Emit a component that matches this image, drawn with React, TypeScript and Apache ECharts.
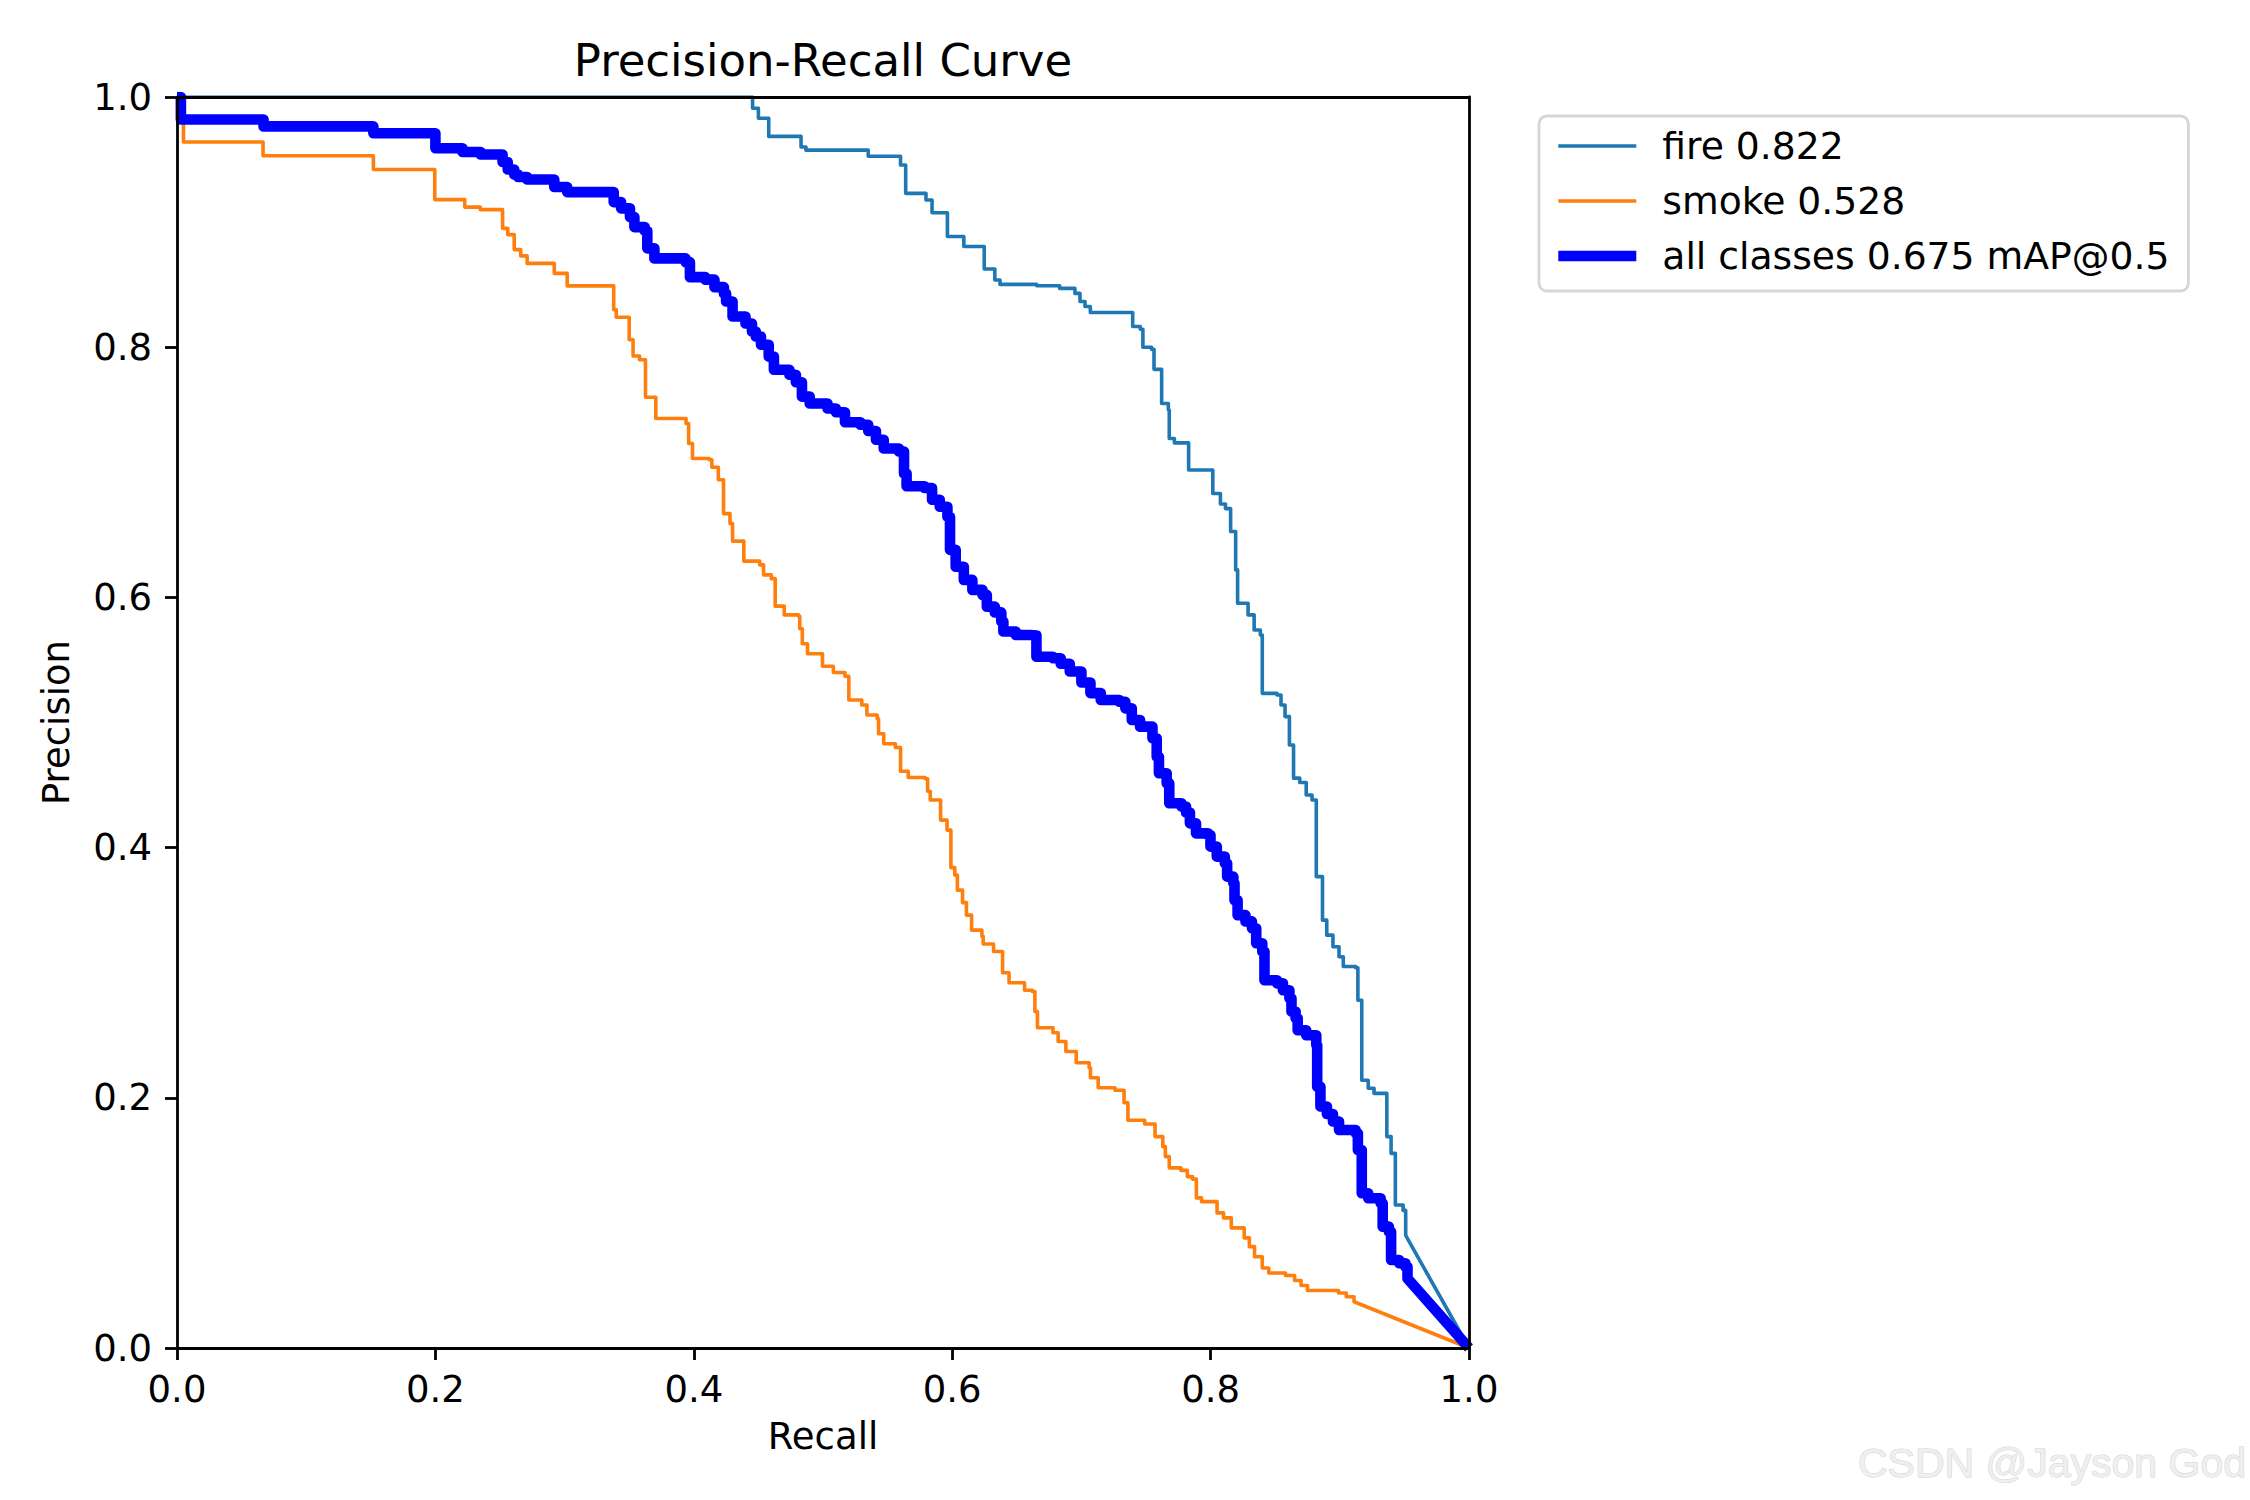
import React, { useEffect, useRef } from "react";
import * as echarts from "echarts";

// ---------- data (recall, precision level starting at that recall) ----------
const FIRE_STEPS: [number, number][] = [
  [0, 1.0], [0.4455, 0.991], [0.45, 0.983], [0.458, 0.9685], [0.483, 0.96], [0.4868, 0.9575],
  [0.535, 0.9526], [0.56, 0.9456], [0.564, 0.923], [0.5797, 0.9177], [0.5844, 0.9075],
  [0.5963, 0.8885], [0.609, 0.8805], [0.6248, 0.8625], [0.633, 0.8537], [0.637, 0.8502],
  [0.6654, 0.8491], [0.6832, 0.847], [0.695, 0.843], [0.6989, 0.8365], [0.7028, 0.8325],
  [0.7069, 0.8277], [0.7397, 0.8166], [0.7456, 0.8144], [0.7476, 0.8], [0.7543, 0.7983],
  [0.7562, 0.7823], [0.7621, 0.755], [0.7673, 0.7498], [0.768, 0.727], [0.772, 0.7235],
  [0.783, 0.7018], [0.8017, 0.683], [0.8076, 0.6747], [0.8115, 0.671], [0.8155, 0.6527],
  [0.8194, 0.622], [0.8209, 0.5953], [0.829, 0.586], [0.8337, 0.574], [0.8385, 0.57],
  [0.84, 0.5233], [0.8514, 0.522], [0.8545, 0.514], [0.8576, 0.5047], [0.861, 0.482],
  [0.8642, 0.4555], [0.869, 0.452], [0.874, 0.442], [0.8785, 0.438], [0.8818, 0.3768],
  [0.8866, 0.342], [0.8899, 0.33], [0.8947, 0.3208], [0.8994, 0.3128], [0.9027, 0.305],
  [0.9123, 0.304], [0.914, 0.278], [0.917, 0.214], [0.922, 0.2076], [0.9265, 0.2035],
  [0.9364, 0.169], [0.9397, 0.1556], [0.943, 0.1143], [0.949, 0.11], [0.951, 0.09],
];

const SMOKE_STEPS: [number, number][] = [
  [0, 1.0], [0.005, 0.964], [0.0666, 0.953], [0.152, 0.942], [0.1995, 0.918], [0.2227, 0.912],
  [0.2347, 0.91], [0.252, 0.895], [0.256, 0.89], [0.261, 0.878], [0.266, 0.873], [0.271, 0.867],
  [0.292, 0.859], [0.302, 0.849], [0.338, 0.83], [0.34, 0.824], [0.35, 0.806], [0.353, 0.793],
  [0.358, 0.79], [0.3626, 0.76], [0.3706, 0.743], [0.394, 0.739], [0.396, 0.723], [0.399, 0.711],
  [0.412, 0.71], [0.414, 0.704], [0.419, 0.694], [0.423, 0.667], [0.428, 0.659], [0.43, 0.645],
  [0.4387, 0.629], [0.451, 0.626], [0.454, 0.618], [0.46, 0.615], [0.463, 0.593], [0.47, 0.586],
  [0.481, 0.585], [0.482, 0.575], [0.484, 0.563], [0.488, 0.555], [0.4996, 0.545], [0.508, 0.54],
  [0.517, 0.537], [0.52, 0.518], [0.53, 0.514], [0.534, 0.506], [0.542, 0.503], [0.543, 0.491],
  [0.547, 0.483], [0.556, 0.48], [0.56, 0.461], [0.566, 0.456], [0.579, 0.455], [0.581, 0.445],
  [0.583, 0.438], [0.591, 0.422], [0.596, 0.414], [0.599, 0.384], [0.602, 0.378], [0.604, 0.366],
  [0.608, 0.356], [0.611, 0.346], [0.615, 0.334], [0.623, 0.329], [0.624, 0.323], [0.632, 0.317],
  [0.639, 0.3], [0.644, 0.292], [0.656, 0.286], [0.662, 0.285], [0.664, 0.269], [0.666, 0.256],
  [0.678, 0.252], [0.682, 0.245], [0.688, 0.237], [0.696, 0.228], [0.706, 0.224], [0.707, 0.216],
  [0.713, 0.208], [0.726, 0.206], [0.733, 0.196], [0.736, 0.182], [0.749, 0.179], [0.757, 0.169],
  [0.763, 0.161], [0.765, 0.153], [0.768, 0.144], [0.777, 0.142], [0.782, 0.137], [0.786, 0.135],
  [0.789, 0.12], [0.793, 0.117], [0.805, 0.108], [0.81, 0.104], [0.816, 0.096], [0.826, 0.088],
  [0.83, 0.081], [0.834, 0.073], [0.84, 0.064], [0.845, 0.06], [0.858, 0.058], [0.865, 0.054],
  [0.87, 0.05], [0.875, 0.046], [0.899, 0.044], [0.905, 0.041], [0.911, 0.037],
];

const ALL_STEPS: [number, number][] = [
  [0, 1.0], [0.003, 0.982], [0.067, 0.9765], [0.152, 0.971], [0.2, 0.959], [0.221, 0.956],
  [0.235, 0.954], [0.252, 0.948], [0.256, 0.942], [0.261, 0.938], [0.264, 0.936], [0.271, 0.934],
  [0.292, 0.928], [0.302, 0.924], [0.338, 0.916], [0.3437, 0.911], [0.3506, 0.904], [0.354, 0.896],
  [0.362, 0.893], [0.364, 0.879], [0.3695, 0.871], [0.3937, 0.868], [0.397, 0.856], [0.409, 0.854],
  [0.416, 0.848], [0.4233, 0.843], [0.425, 0.8365], [0.43, 0.8245], [0.44, 0.819], [0.445, 0.8125],
  [0.448, 0.8085], [0.452, 0.802], [0.458, 0.7925], [0.462, 0.782], [0.474, 0.778], [0.479, 0.772],
  [0.4837, 0.7605], [0.4897, 0.755], [0.5035, 0.751], [0.51, 0.748], [0.517, 0.74], [0.529, 0.738],
  [0.535, 0.733], [0.541, 0.726], [0.547, 0.719], [0.5588, 0.7166], [0.5627, 0.699], [0.5647, 0.6888],
  [0.5786, 0.6875], [0.5844, 0.678], [0.5904, 0.6725], [0.5963, 0.6645], [0.5983, 0.638],
  [0.6027, 0.6245], [0.609, 0.614], [0.6156, 0.606], [0.6235, 0.602], [0.6268, 0.5926], [0.633, 0.588],
  [0.638, 0.5808], [0.6396, 0.5728], [0.6492, 0.57], [0.6604, 0.5695], [0.6652, 0.5526], [0.678, 0.5513],
  [0.684, 0.547], [0.691, 0.5408], [0.7, 0.532], [0.707, 0.5235], [0.715, 0.518], [0.7294, 0.5166],
  [0.734, 0.5113], [0.739, 0.502], [0.7454, 0.4967], [0.755, 0.4874], [0.7583, 0.4727], [0.76, 0.4594],
  [0.766, 0.4514], [0.768, 0.4354], [0.7775, 0.4328], [0.781, 0.428], [0.784, 0.4194], [0.7887, 0.4114],
  [0.798, 0.41], [0.7999, 0.4008], [0.8048, 0.3928], [0.811, 0.3875], [0.8128, 0.3768], [0.8176, 0.3715],
  [0.8185, 0.358], [0.8209, 0.346], [0.827, 0.341], [0.832, 0.3355], [0.8353, 0.3235], [0.84, 0.317],
  [0.8417, 0.294], [0.8514, 0.2915], [0.856, 0.286], [0.861, 0.2795], [0.8626, 0.269], [0.8658, 0.2635],
  [0.8674, 0.254], [0.874, 0.25], [0.8818, 0.2422], [0.8825, 0.2089], [0.885, 0.193], [0.89, 0.187],
  [0.8947, 0.181], [0.8994, 0.1743], [0.9123, 0.1716], [0.914, 0.1583], [0.917, 0.1237], [0.922, 0.1197],
  [0.9316, 0.1157], [0.9332, 0.097], [0.938, 0.093], [0.9397, 0.0703], [0.946, 0.0677], [0.9508, 0.065],
  [0.9524, 0.0556],
];

// every curve ends with a straight segment to this point
const TAIL_END: [number, number] = [1, 0];

const SERIES_NAMES = ["fire 0.822", "smoke 0.528", "all classes 0.675 mAP@0.5"];
const SERIES_COLORS = ["#1f77b4", "#ff7f0e", "#0000ff"];
const SERIES_WIDTHS = [3.6, 3.6, 10.6];

const FONT = "DejaVu Sans";
const FS = 37;
const LEGEND_FS = 37.7;

// turn "level starts at recall" breakpoints into staircase vertices
function toPolyline(steps: [number, number][]): [number, number][] {
  const out: [number, number][] = [[steps[0][0], steps[0][1]]];
  for (let i = 1; i < steps.length; i++) {
    out.push([steps[i][0], steps[i - 1][1]]);
    out.push([steps[i][0], steps[i][1]]);
  }
  out.push(TAIL_END);
  return out;
}

export default function App() {
  const ref = useRef<HTMLDivElement>(null);

  useEffect(() => {
    document.body.style.margin = "0";
    if (!ref.current) return;
    const chart = echarts.init(ref.current, null, { renderer: "svg" });

    const left = 177, top = 97, width = 1292, height = 1251;
    const curves = [FIRE_STEPS, SMOKE_STEPS, ALL_STEPS];

    const axisCommon = {
      type: "value" as const,
      min: 0,
      max: 1,
      interval: 0.2,
      splitLine: { show: false },
      z: 10,
      axisLine: { show: true, onZero: false, lineStyle: { color: "#000", width: 2.8 } },
    };

    const tickStyle = { show: true, inside: false, length: 12, lineStyle: { color: "#000", width: 2.8 } };
    const labelStyle = { fontFamily: FONT, fontSize: FS, color: "#000" };

    const option: any = {
      animation: false,
      backgroundColor: "#fff",
      textStyle: { fontFamily: FONT },
      grid: { left, top, width, height, containLabel: false },
      xAxis: [
        {
          ...axisCommon,
          position: "bottom",
          name: "Recall",
          nameLocation: "middle",
          nameGap: 70,
          nameTextStyle: { ...labelStyle, lineHeight: 37 },
          axisTick: tickStyle,
          axisLabel: { show: true, margin: 23, ...labelStyle, formatter: (v: number) => v.toFixed(1) },
        },
        {
          ...axisCommon,
          position: "top",
          axisTick: { show: false },
          axisLabel: { show: false },
        },
      ],
      yAxis: [
        {
          ...axisCommon,
          position: "left",
          name: "Precision",
          nameLocation: "middle",
          nameRotate: 90,
          nameGap: 102,
          nameTextStyle: { ...labelStyle, lineHeight: 37 },
          axisTick: tickStyle,
          axisLabel: { show: true, margin: 25, ...labelStyle, formatter: (v: number) => v.toFixed(1) },
        },
        {
          ...axisCommon,
          position: "right",
          axisTick: { show: false },
          axisLabel: { show: false },
        },
      ],
      legend: {
        orient: "vertical",
        left: 1539,
        top: 116,
        padding: [11, 19, 16, 14],
        itemWidth: 78,
        itemHeight: 36,
        itemGap: 17,
        backgroundColor: "#fff",
        borderColor: "#d6d6d6",
        borderWidth: 2.8,
        borderRadius: 8,
        selectedMode: false,
        textStyle: {
          fontFamily: FONT,
          fontSize: LEGEND_FS,
          color: "#000",
          lineHeight: 36,
          padding: [0, 0, 0, 21],
        },
        data: SERIES_NAMES.map((n, i) => ({
          name: n,
          lineStyle: { width: SERIES_WIDTHS[i], color: SERIES_COLORS[i] },
          itemStyle: { opacity: 0 },
        })),
      },
      graphic: [
        {
          type: "text",
          x: left + width / 2,
          y: 60,
          style: {
            text: "Precision-Recall Curve",
            fontFamily: FONT,
            fontSize: 45,
            fill: "#000",
            textAlign: "center",
            textVerticalAlign: "middle",
          },
        },
        {
          type: "text",
          x: 2246,
          y: 1463,
          style: {
            text: "CSDN @Jayson God",
            fontFamily: "Liberation Sans",
            fontSize: 41,
            fill: "#efefef",
            stroke: "#d2d2d2",
            lineWidth: 1,
            textAlign: "right",
            textVerticalAlign: "middle",
          },
        },
      ],
      series: curves.map((c, i) => ({
        type: "line",
        name: SERIES_NAMES[i],
        xAxisIndex: 0,
        yAxisIndex: 0,
        data: toPolyline(c),
        showSymbol: false,
        symbol: "none",
        clip: true,
        color: SERIES_COLORS[i],
        lineStyle: { color: SERIES_COLORS[i], width: SERIES_WIDTHS[i], join: "round" },
        z: 2 + i,
      })),
    };

    chart.setOption(option);
    return () => chart.dispose();
  }, []);

  return (
    <div
      ref={ref}
      style={{ position: "absolute", left: 0, top: 0, width: 2250, height: 1500 }}
    />
  );
}
